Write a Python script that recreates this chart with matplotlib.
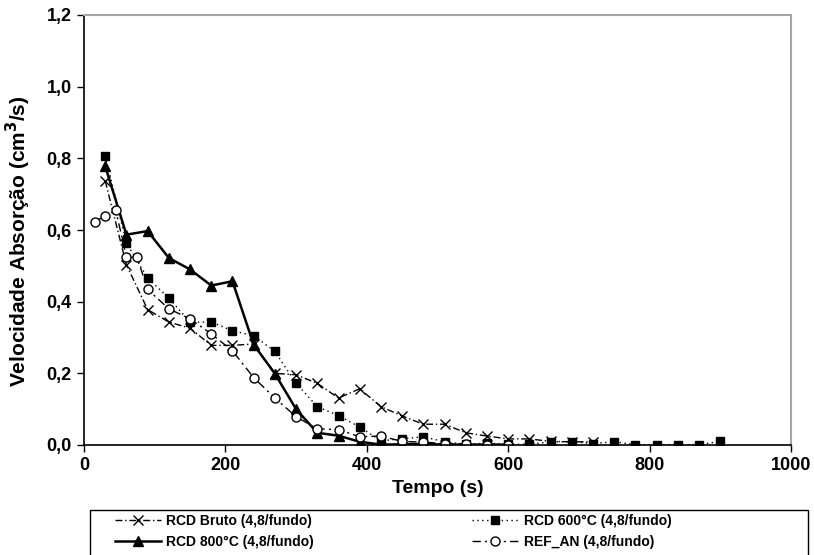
import matplotlib
matplotlib.use("Agg")
import matplotlib.pyplot as plt
from matplotlib.patches import Rectangle

plt.rcParams['font.family'] = ['Liberation Sans', 'DejaVu Sans']
plt.rcParams['font.weight'] = 'bold'

# Data
t_bruto = [30, 60, 90, 120, 150, 180, 210, 240, 270, 300, 330, 360, 390, 420, 450, 480, 510, 540, 570, 600, 630, 660, 690, 720]
v_bruto = [0.737, 0.503, 0.378, 0.343, 0.326, 0.278, 0.278, 0.282, 0.200, 0.196, 0.172, 0.131, 0.157, 0.107, 0.081, 0.058, 0.058, 0.034, 0.025, 0.017, 0.017, 0.010, 0.009, 0.009]

t_600 = [30, 60, 90, 120, 150, 180, 210, 240, 270, 300, 330, 360, 390, 420, 450, 480, 510, 540, 570, 600, 630, 660, 690, 720, 750, 780, 810, 840, 870, 900]
v_600 = [0.806, 0.564, 0.466, 0.410, 0.343, 0.343, 0.319, 0.305, 0.261, 0.172, 0.107, 0.082, 0.050, 0.012, 0.017, 0.023, 0.009, 0.002, 0.005, 0.002, 0.002, 0.009, 0.009, 0.004, 0.009, 0.001, 0.001, 0.001, 0.001, 0.010]

t_800 = [30, 60, 90, 120, 150, 180, 210, 240, 270, 300, 330, 360, 390, 420, 450, 480, 510, 540, 570, 600]
v_800 = [0.778, 0.587, 0.597, 0.522, 0.490, 0.445, 0.457, 0.280, 0.199, 0.100, 0.034, 0.026, 0.009, 0.001, 0.002, 0.003, 0.001, 0.001, 0.001, 0.001]

t_ref = [15, 30, 45, 60, 75, 90, 120, 150, 180, 210, 240, 270, 300, 330, 360, 390, 420, 450, 480, 510, 540, 570, 600]
v_ref = [0.623, 0.639, 0.655, 0.524, 0.524, 0.434, 0.380, 0.352, 0.310, 0.263, 0.188, 0.131, 0.079, 0.045, 0.043, 0.023, 0.025, 0.010, 0.008, 0.004, 0.002, 0.001, 0.001]

labels = ["RCD Bruto (4,8/fundo)", "RCD 600°C (4,8/fundo)", "RCD 800°C (4,8/fundo)", "REF_AN (4,8/fundo)"]
xticks = [0, 200, 400, 600, 800, 1000]
yticks = [0.0, 0.2, 0.4, 0.6, 0.8, 1.0, 1.2]

W, H = 814, 555
fig = plt.figure(figsize=(W/100, H/100), dpi=100)
ax = fig.add_axes([84/W, 1-445/H, (791-84)/W, (445-15)/H])

l1, = ax.plot(t_bruto, v_bruto, color='black', lw=1.0, dashes=(5, 2, 1, 2),
              marker='x', ms=7, mew=1.0)
l2, = ax.plot(t_600, v_600, color='black', lw=1.0, dashes=(1, 2.5),
              marker='s', ms=5.5)
l3, = ax.plot(t_800, v_800, color='black', lw=1.8, ls='-',
              marker='^', ms=6.5)
l4, = ax.plot(t_ref, v_ref, color='black', lw=1.0, dashes=(6, 3, 1.5, 3),
              marker='o', ms=6.5, mfc='white', mew=1.0)

ax.set_xlim(0, 1000)
ax.set_ylim(0, 1.2)
ax.set_xticks(xticks)
ax.set_xticklabels([str(x) for x in xticks], fontsize=13, fontweight='bold')
ax.set_yticks(yticks)
ax.set_yticklabels([f"{y:.1f}".replace('.', ',') for y in yticks], fontsize=13, fontweight='bold')
ax.tick_params(direction='out', length=5, width=1, color='black', pad=4)
for s in ['top', 'right']:
    ax.spines[s].set_color('#a6a6a6')
    ax.spines[s].set_linewidth(1.5)
for s in ['left', 'bottom']:
    ax.spines[s].set_color('black')
    ax.spines[s].set_linewidth(1.2)

ax.set_xlabel("Tempo (s)", fontsize=14, fontweight='bold', labelpad=4)
ax.set_ylabel("Velocidade Absorção (cm$^\\mathbf{3}$/s)", fontsize=15, fontweight='bold')
ax.yaxis.set_label_coords(-0.072, 0.475)

# legend box (frame drawn as figure rectangle spanning the reference width)
fig.patches.append(Rectangle((90/W, -0.01), (808-90)/W, 1-510/H + 0.01,
                             transform=fig.transFigure, fill=False,
                             edgecolor='black', lw=1.0))
leg = fig.legend([l1, l3, l2, l4], [labels[0], labels[2], labels[1], labels[3]],
                 ncol=2, loc='upper left',
                 bbox_to_anchor=(110/W, 1-509/H),
                 frameon=False,
                 prop={'size': 10, 'weight': 'bold'}, handlelength=3.3,
                 borderpad=0.35, labelspacing=0.5, handletextpad=0.4,
                 columnspacing=11.4, borderaxespad=0)

fig.savefig("out.png", dpi=100)
